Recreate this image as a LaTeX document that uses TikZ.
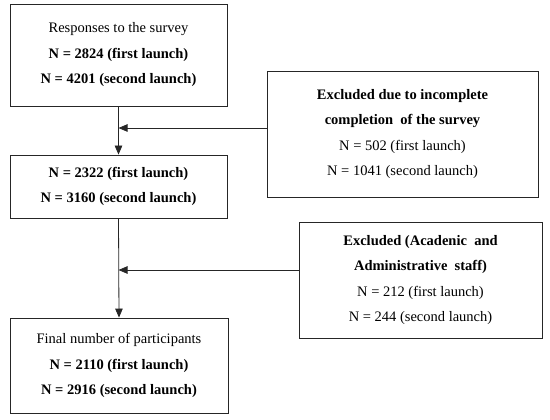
\documentclass[tikz,border=0pt]{standalone}
\usepackage{fontspec}
\setmainfont{Liberation Serif}
\usetikzlibrary{arrows.meta}
\begin{document}
\begin{tikzpicture}[x=1pt,y=-1pt,
  box/.style={draw=black!85, line width=0.8pt, align=center, inner sep=0pt,
    font=\fontsize{14.5}{25.5}\selectfont},
  conn/.style={draw=black!85, line width=0.8pt},
  arr/.style={conn, -{Triangle[length=9pt,width=7.5pt]}}]
\useasboundingbox (0,0) rectangle (550,420);
\node[box, minimum width=217pt, minimum height=102pt] (b1) at (118.5,55)
  {Responses to the survey\\ \textbf{N = 2824 (first launch)}\\ \textbf{N = 4201 (second launch)}};
\node[box, minimum width=217pt, minimum height=63pt] (b2) at (118.5,186.5)
  {\textbf{N = 2322 (first launch)}\\ \textbf{N = 3160 (second launch)}};
\node[box, minimum width=271pt, minimum height=126pt] (e1) at (402.5,134)
  {\textbf{Excluded due to incomplete}\\ \textbf{completion\ \ of the survey}\\ N = 502 (first launch)\\ N = 1041 (second launch)};
\node[box, minimum width=218pt, minimum height=95pt] (b3) at (119,365.5)
  {Final number of participants\\ \textbf{N = 2110 (first launch)}\\ \textbf{N = 2916 (second launch)}};
\node[box, minimum width=243pt, minimum height=116pt] (e2) at (420.5,280)
  {\textbf{Excluded (Acadenic\ \ and}\\ \textbf{Administrative\ \ staff)}\\ N = 212 (first launch)\\ N = 244 (second launch)};
\coordinate (c1) at ([yshift=6pt]e1.west);
\coordinate (c2) at ([yshift=10pt]e2.west);
\draw[arr] (b1.south) -- (b2.north);
\draw[arr] (c1) -- (c1 -| b1.south);
\draw[arr] (b2.south) -- (b3.north);
\draw[arr] (c2) -- (c2 -| b2.south);
\end{tikzpicture}
\end{document}
